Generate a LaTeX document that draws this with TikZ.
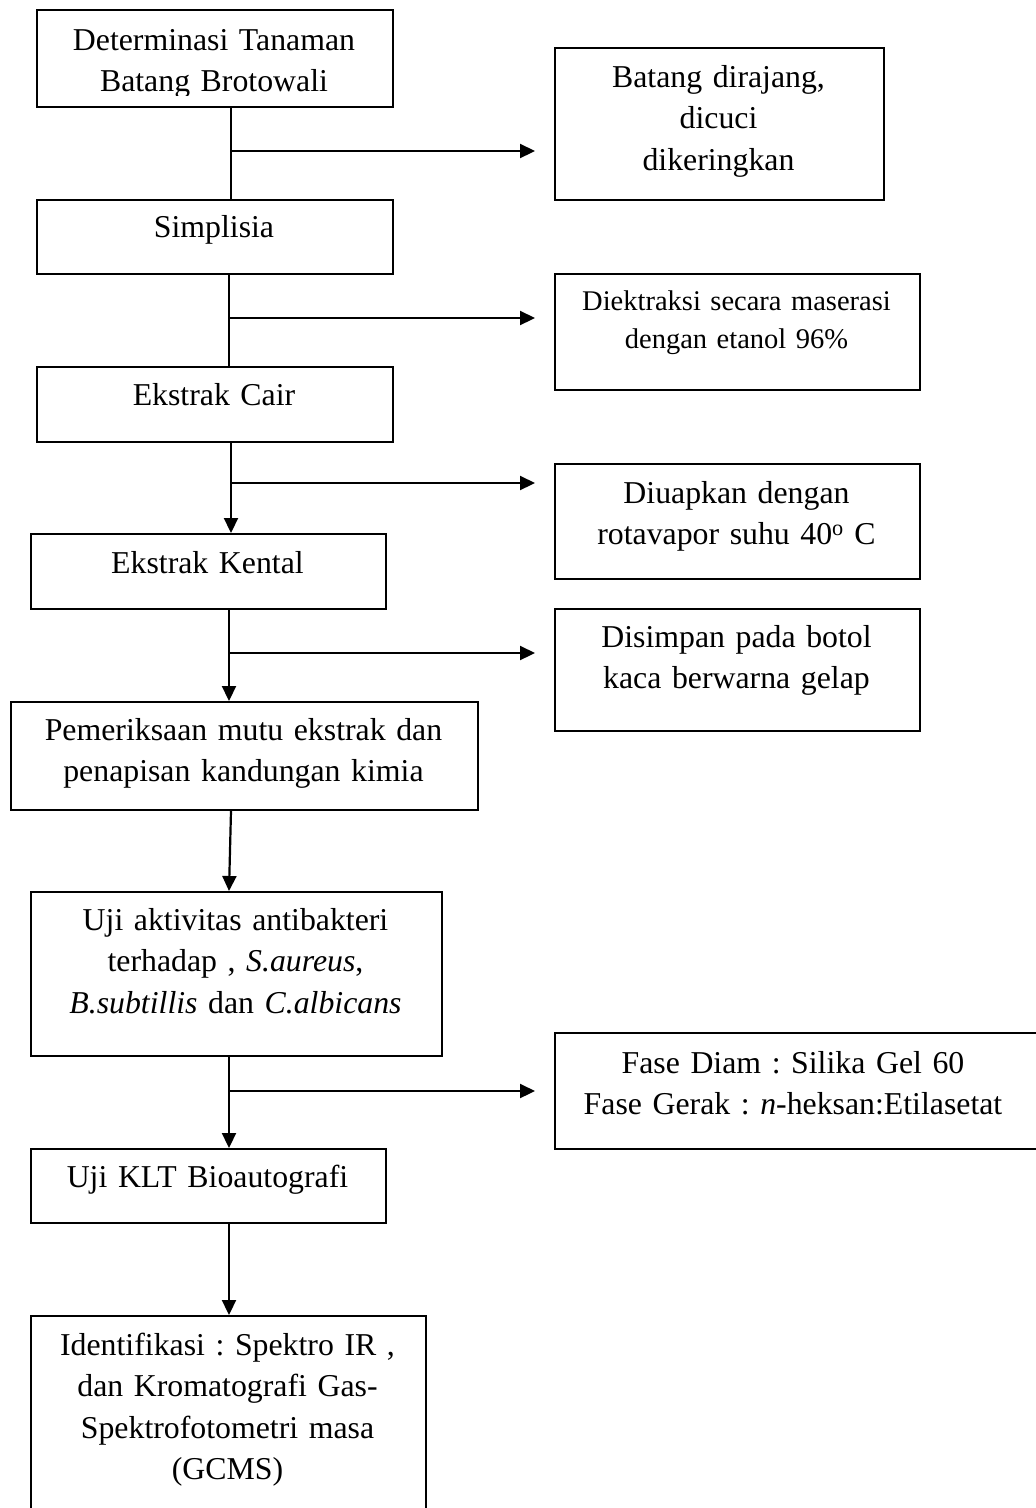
\documentclass[tikz,border=0pt]{standalone}
\usepackage{fontspec}
\setmainfont{Liberation Serif}
\usetikzlibrary{arrows.meta,calc}
\frenchspacing
\tikzset{
  box/.style={draw, line width=1.8pt, inner sep=0pt, anchor=north west},
  txt/.style={inner sep=0pt, align=center, anchor=base, text width=600pt, font=\fontsize{31.8}{41.5}\selectfont},
  txtsmall/.style={inner sep=0pt, align=center, anchor=base, text width=600pt, font=\fontsize{28.5}{38}\selectfont},
  ln/.style={line width=2.2pt},
  arr/.style={line width=2.2pt, -{Triangle[length=15pt,width=14pt]}},
  harr/.style={arr, shorten >=19pt},
}
\begin{document}
\begin{tikzpicture}[x=1pt,y=-1pt]
\fill[white] (0,0) rectangle (1036,1508);
\useasboundingbox (0,0) rectangle (1036,1508);
\clip (0,0) rectangle (1036,1508);

% left column boxes
\node[box, minimum width=356pt, minimum height=97pt] (b1) at (36,9) {};
\node[box, minimum width=356pt, minimum height=74pt] (b2) at (36,199) {};
\node[box, minimum width=356pt, minimum height=75pt] (b3) at (36,366) {};
\node[box, minimum width=355pt, minimum height=75pt] (b4) at (30,533) {};
\node[box, minimum width=467pt, minimum height=108pt] (b5) at (10,701) {};
\node[box, minimum width=411pt, minimum height=164pt] (b6) at (30,891) {};
\node[box, minimum width=355pt, minimum height=74pt] (b7) at (30,1148) {};
\node[box, minimum width=395pt, minimum height=230pt] (b8) at (30,1315) {};

% right column boxes
\node[box, minimum width=329pt, minimum height=152pt] (r1) at (554,47) {};
\node[box, minimum width=365pt, minimum height=116pt] (r2) at (554,273) {};
\node[box, minimum width=365pt, minimum height=115pt] (r3) at (554,463) {};
\node[box, minimum width=365pt, minimum height=122pt] (r4) at (554,608) {};
\node[box, minimum width=500pt, minimum height=116pt] (r5) at (554,1032) {};

% texts
\begin{scope}
\clip (36,9) rectangle (392,95.5);
\node[txt] (t1) at (214,50) {Determinasi Tanaman\\Batang Brotowali};
\end{scope}
\node[txt] (t2) at (214,237) {Simplisia};
\node[txt] (t3) at (214,405) {Ekstrak Cair};
\node[txt] (t4) at (207.5,573) {Ekstrak Kental};
\node[txt] (t5) at (243.5,740) {Pemeriksaan mutu ekstrak dan\\penapisan kandungan kimia};
\node[txt] (t6) at (235.5,930) {Uji aktivitas antibakteri\\terhadap , \textit{S.aureus},\\\textit{B.subtillis} dan \textit{C.albicans}};
\node[txt] (t7) at (207.5,1187) {Uji KLT Bioautografi};
\node[txt] (t8) at (227.5,1355) {Identifikasi : Spektro IR ,\\dan Kromatografi Gas-\\Spektrofotometri masa\\(GCMS)};

\node[txt] (s1) at (718.5,87) {Batang dirajang,\\dicuci\\dikeringkan};
\node[txtsmall] (s2) at (736.5,310) {Diektraksi secara maserasi\\dengan etanol 96\%};
\node[txt] (s3) at (736.5,503) {Diuapkan dengan\\rotavapor suhu 40\textsuperscript{o} C};
\node[txt] (s4) at (736.5,647) {Disimpan pada botol\\kaca berwarna gelap};
\node[txt] (s5) at (793,1073) {Fase Diam : Silika Gel 60\\Fase Gerak : \textit{n}-heksan:Etilasetat};

% junctions
\coordinate (j1) at (231,151);
\coordinate (j2) at (229,318);
\coordinate (j3) at (231,483);
\coordinate (j4) at (229,653);
\coordinate (j6) at (229,1091);

% connectors
\draw[ln] (b1.south -| j1) -- (b2.north -| j1);
\draw[harr] (j1) -- (r1.west |- j1);
\draw[ln] (b2.south -| j2) -- (b3.north -| j2);
\draw[harr] (j2) -- (r2.west |- j2);
\draw[arr] (b3.south -| j3) -- (b4.north -| j3);
\draw[harr] (j3) -- (r3.west |- j3);
\draw[arr] (b4.south -| j4) -- (b5.north -| j4);
\draw[harr] (j4) -- (r4.west |- j4);
\draw[arr] (b5.south -| j3) -- (b6.north -| j4);
\draw[arr] (b6.south -| j6) -- (b7.north -| j6);
\draw[harr] (j6) -- (r5.west |- j6);
\draw[arr] (b7.south -| j6) -- (b8.north -| j6);
\end{tikzpicture}
\end{document}
